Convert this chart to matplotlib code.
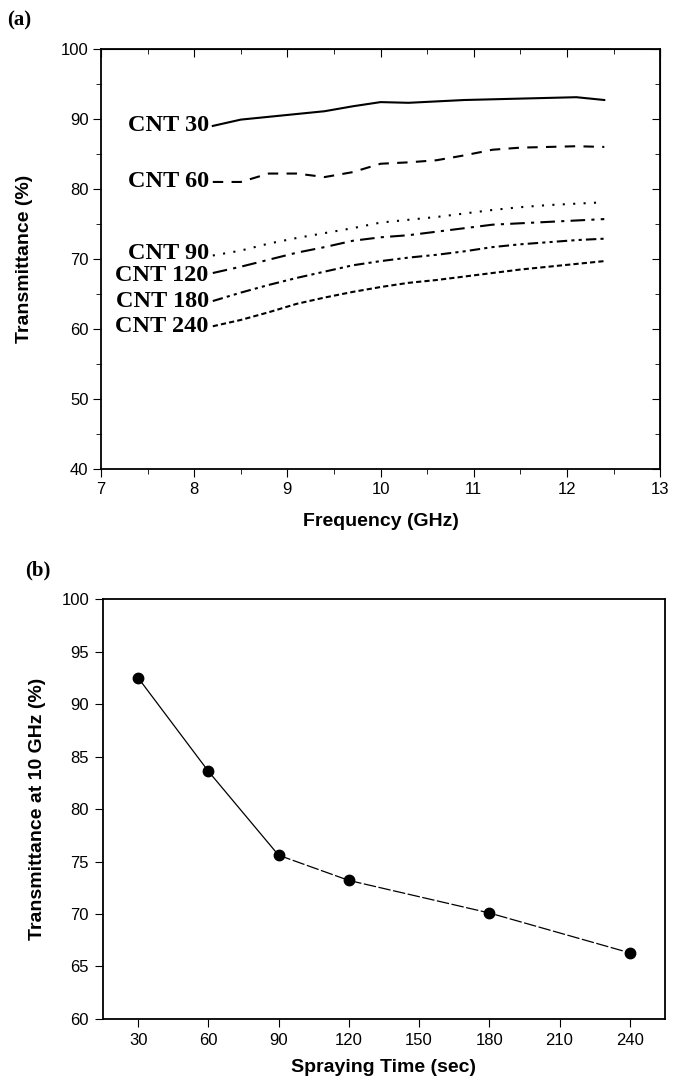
import matplotlib
matplotlib.use("Agg")
import matplotlib.pyplot as plt

# (a) transmittance spectra
freq = [8.2, 8.5, 8.8, 9.1, 9.4, 9.7, 10.0, 10.3, 10.6, 10.9, 11.2, 11.5, 11.8, 12.1, 12.4]
cnt30 = [89.0, 89.9, 90.3, 90.7, 91.1, 91.8, 92.4, 92.3, 92.5, 92.7, 92.8, 92.9, 93.0, 93.1, 92.7]
cnt60 = [81.0, 81.0, 82.2, 82.2, 81.7, 82.4, 83.6, 83.8, 84.1, 84.8, 85.6, 85.9, 86.0, 86.1, 86.0]
cnt90 = [70.5, 71.2, 72.2, 73.0, 73.7, 74.4, 75.2, 75.6, 76.0, 76.5, 77.0, 77.4, 77.7, 77.9, 78.1]
cnt120 = [68.0, 68.9, 69.9, 70.9, 71.7, 72.6, 73.1, 73.4, 73.9, 74.4, 74.9, 75.1, 75.3, 75.5, 75.7]
cnt180 = [64.0, 65.2, 66.3, 67.3, 68.2, 69.1, 69.7, 70.2, 70.6, 71.1, 71.7, 72.1, 72.4, 72.7, 72.9]
cnt240 = [60.4, 61.3, 62.4, 63.6, 64.5, 65.3, 66.0, 66.6, 67.0, 67.5, 68.0, 68.5, 68.9, 69.3, 69.7]
labels = ["CNT 30", "CNT 60", "CNT 90", "CNT 120", "CNT 180", "CNT 240"]

# (b) transmittance at 10 GHz
spray_time = [30, 60, 90, 120, 180, 240]
trans_10ghz = [92.5, 83.6, 75.6, 73.2, 70.1, 66.3]

sans = ["Liberation Sans", "DejaVu Sans"]
serif = ["Liberation Serif", "DejaVu Serif"]
plt.rcParams["font.family"] = sans

fig = plt.figure(figsize=(6.73, 10.86), dpi=100)

# ---- panel (a)
ax1 = fig.add_axes([0.150, 0.568, 0.831, 0.387])
series = [cnt30, cnt60, cnt90, cnt120, cnt180, cnt240]
styles = ["-", (0, (5, 4)), (0, (1, 4)), (0, (7, 3, 1.5, 3)), (0, (5, 2, 1.5, 2, 1.5, 2)), (0, (2.5, 1.5))]
# the labels sit a touch off the line start so 90/120 don't collide
nudge = [0, 0, 1.5, -1.5, 0, 0]
for y, ls, lab, dy in zip(series, styles, labels, nudge):
    ax1.plot(freq, y, color="black", lw=1.5, linestyle=ls)
    ax1.annotate(lab, (freq[0], y[0]), xytext=(-3, dy), textcoords="offset points",
                 ha="right", va="center", fontsize=17.5, fontweight="bold", family=serif)
ax1.set_xlim(7, 13)
ax1.set_ylim(40, 100)
ax1.set_xticks(range(7, 14))
ax1.set_xticks([7.5 + i for i in range(6)], minor=True)
ax1.set_yticks(range(40, 101, 10))
ax1.set_yticks(range(45, 100, 10), minor=True)
ax1.tick_params(which="both", direction="out", labelsize=12, pad=3)
ax1.tick_params(which="major", length=6)
ax1.tick_params(which="minor", length=3.5)
top = ax1.secondary_xaxis("top")
top.set_xticks(range(7, 14))
top.set_xticks([7.5 + i for i in range(6)], minor=True)
top.tick_params(which="major", direction="in", labeltop=False, length=6)
top.tick_params(which="minor", direction="in", length=3.5)
right = ax1.secondary_yaxis("right")
right.set_yticks(range(40, 101, 10))
right.set_yticks(range(45, 100, 10), minor=True)
right.tick_params(which="major", direction="in", labelright=False, length=6)
right.tick_params(which="minor", direction="in", length=3.5)
ax1.set_xlabel("Frequency (GHz)", fontsize=14, fontweight="bold", labelpad=12)
ax1.set_ylabel("Transmittance (%)", fontsize=14, fontweight="bold", labelpad=20)
for s in ax1.spines.values():
    s.set_linewidth(1.3)
fig.text(0.010, 0.981, "(a)", fontsize=15, fontweight="bold", family=serif, va="center")

# ---- panel (b)
ax2 = fig.add_axes([0.153, 0.0617, 0.835, 0.3867])
ax2.plot(spray_time[:3], trans_10ghz[:3], color="black", lw=0.9)
ax2.plot(spray_time[2:], trans_10ghz[2:], color="black", lw=0.9, linestyle=(0, (10, 2)))
ax2.plot(spray_time, trans_10ghz, "o", color="black", ms=7.5)
ax2.set_xlim(15, 255)
ax2.set_ylim(60, 100)
ax2.set_xticks(range(30, 241, 30))
ax2.set_yticks(range(60, 101, 5))
ax2.tick_params(direction="out", length=6, labelsize=12, pad=4)
ax2.set_xlabel("Spraying Time (sec)", fontsize=14, fontweight="bold", labelpad=8)
ax2.set_ylabel("Transmittance at 10 GHz (%)", fontsize=14, fontweight="bold", labelpad=11)
for s in ax2.spines.values():
    s.set_linewidth(1.3)
fig.text(0.037, 0.475, "(b)", fontsize=15, fontweight="bold", family=serif, va="center")

fig.savefig("out.png", dpi=100, facecolor="white")
